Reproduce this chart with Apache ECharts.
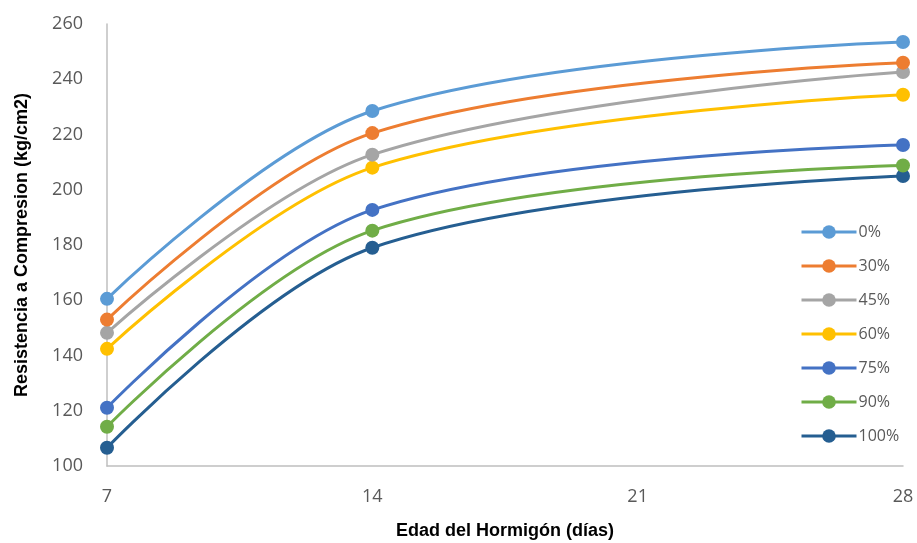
<!DOCTYPE html>
<html>
<head>
<meta charset="utf-8">
<script src="https://cdn.jsdelivr.net/npm/echarts@6/dist/echarts.min.js"></script>
<style>
  html, body { margin: 0; padding: 0; background: #fff; }
  #chart { width: 917px; height: 543px; }
</style>
</head>
<body>
<div id="chart"></div>
<script>
// Concrete age in days
const ages = [7, 14, 28];

// Replacement percentages (legend order)
const mixes = ['0%', '30%', '45%', '60%', '75%', '90%', '100%'];

// Compressive strength (kg/cm2) at 7, 14 and 28 days
const s0 = [160.5, 228.5, 253.5];
const s30 = [153.0, 220.5, 246.0];
const s45 = [148.2, 212.7, 242.6];
const s60 = [142.4, 208.0, 234.4];
const s75 = [121.1, 192.7, 216.2];
const s90 = [114.2, 185.2, 208.8];
const s100 = [106.6, 179.0, 205.0];

const yTicks = { min: 100, max: 260, step: 20 };
const xTicks = { min: 7, max: 28, step: 7 };

const colors = ['#5B9BD5', '#ED7D31', '#A5A5A5', '#FFC000', '#4472C4', '#70AD47', '#255E91'];
const values = [s0, s30, s45, s60, s75, s90, s100];

const series = mixes.map((name, i) => ({
  name: name,
  type: 'line',
  smooth: 0.35,
  symbol: 'circle',
  symbolSize: 14,
  lineStyle: { width: 3, color: colors[i] },
  itemStyle: { color: colors[i] },
  data: ages.map((a, j) => [a, values[i][j]]),
  z: 10 - i
}));

const chart = echarts.init(document.getElementById('chart'));
chart.setOption({
  animation: false,
  grid: { left: 107, right: 14, top: 24, bottom: 77, outerBoundsMode: 'none', containLabel: false },
  xAxis: {
    type: 'value',
    min: xTicks.min, max: xTicks.max, interval: xTicks.step,
    name: 'Edad del Hormigón (días)',
    nameLocation: 'middle',
    nameGap: 56,
    nameTextStyle: { fontFamily: 'Liberation Sans', fontWeight: 'bold', fontSize: 18, color: '#000' },
    axisLine: { lineStyle: { color: '#BFBFBF', width: 1.5 } },
    axisTick: { show: false },
    splitLine: { show: false },
    axisLabel: { margin: 22, fontFamily: 'Open Sans', fontSize: 18, color: '#595959' }
  },
  yAxis: {
    type: 'value',
    min: yTicks.min, max: yTicks.max, interval: yTicks.step,
    name: 'Resistencia a Compresion (kg/cm2)',
    nameLocation: 'middle',
    nameGap: 76,
    nameTextStyle: { fontFamily: 'Liberation Sans', fontWeight: 'bold', fontSize: 18, color: '#000' },
    axisLine: { show: true, lineStyle: { color: '#BFBFBF', width: 1.5 } },
    axisTick: { show: false },
    splitLine: { show: false },
    axisLabel: { margin: 24, fontFamily: 'Open Sans', fontSize: 18, color: '#595959' }
  },
  legend: {
    orient: 'vertical',
    left: 795,
    top: 219,
    itemWidth: 55,
    itemHeight: 17,
    itemGap: 18,
    lineStyle: { width: 3 },
    textStyle: { fontFamily: 'Open Sans', fontSize: 16, color: '#595959', padding: [0, 0, 0, -3] },
    data: mixes
  },
  series: series
});
</script>
</body>
</html>
